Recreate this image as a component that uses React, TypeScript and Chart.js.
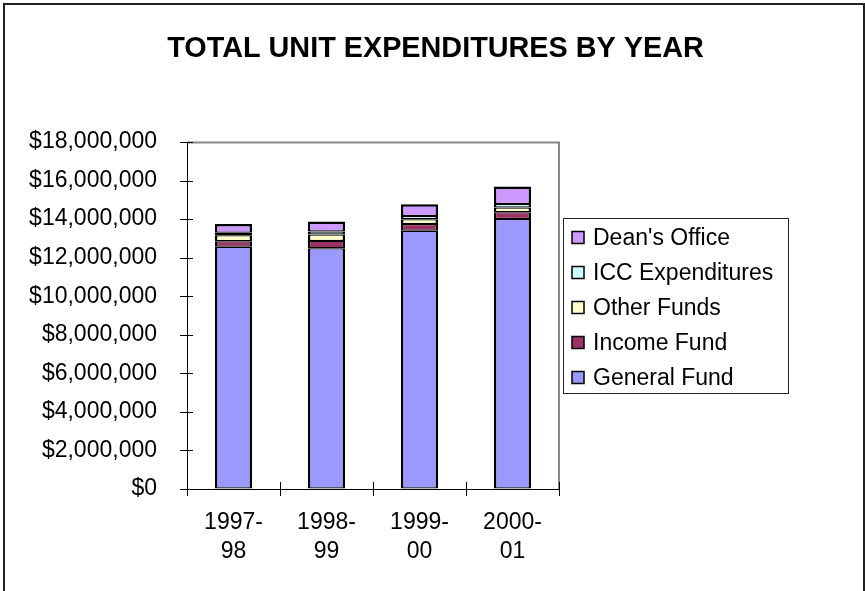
import React, { useEffect, useRef } from "react";
import { Chart, registerables } from "chart.js";

Chart.register(...registerables);

const categories = [["1997-", "98"], ["1998-", "99"], ["1999-", "00"], ["2000-", "01"]];
const generalFund = [12570000, 12490000, 13400000, 14010000];
const incomeFund = [280000, 380000, 350000, 350000];
const otherFunds = [310000, 330000, 240000, 240000];
const iccExpenditures = [130000, 160000, 170000, 190000];
const deansOffice = [450000, 520000, 610000, 900000];
const yMin = 0;
const yMax = 18000000;
const yStep = 2000000;
const chartTitle = "TOTAL UNIT EXPENDITURES BY YEAR";

const FONT = "'Liberation Sans', Arial, sans-serif";

const framePlugin = {
  id: "framePlugin",
  beforeDraw(chart: any) {
    const ctx = chart.ctx;
    ctx.save();
    ctx.fillStyle = "#ffffff";
    ctx.fillRect(0, 0, chart.width, chart.height);
    ctx.strokeStyle = "#222222";
    ctx.lineWidth = 2;
    ctx.strokeRect(4, 4, 860, 700);
    ctx.fillStyle = "#000000";
    ctx.font = `bold 28.8px ${FONT}`;
    ctx.textAlign = "center";
    ctx.textBaseline = "alphabetic";
    ctx.fillText(chartTitle, 435.5, 57);
    ctx.restore();
  },
  afterDatasetsDraw(chart: any) {
    const ctx = chart.ctx;
    const area = chart.chartArea;
    const xs = chart.scales.x;
    const ys = chart.scales.y;
    ctx.save();
    ctx.strokeStyle = "#888888";
    ctx.lineWidth = 2;
    ctx.beginPath();
    ctx.moveTo(area.left, area.top + 0.5);
    ctx.lineTo(area.right, area.top + 0.5);
    ctx.lineTo(area.right, area.bottom);
    ctx.stroke();
    ctx.strokeStyle = "#000000";
    ctx.lineWidth = 1;
    ctx.beginPath();
    ctx.moveTo(Math.round(area.left) + 0.5, area.top);
    ctx.lineTo(Math.round(area.left) + 0.5, area.bottom);
    ctx.moveTo(area.left, Math.round(area.bottom) + 0.5);
    ctx.lineTo(area.right, Math.round(area.bottom) + 0.5);
    for (let v = yMin; v <= yMax; v += yStep) {
      const y = Math.round(ys.getPixelForValue(v)) + 0.5;
      ctx.moveTo(area.left - 7, y);
      ctx.lineTo(area.left + 6, y);
    }
    const n = chart.data.labels.length;
    for (let i = 0; i <= n; i++) {
      const x = Math.round(xs.getPixelForValue(i - 0.5)) + 0.5;
      ctx.moveTo(x, area.bottom - 7);
      ctx.lineTo(x, area.bottom + 7);
    }
    ctx.stroke();
    ctx.restore();
  },
  afterDraw(chart: any) {
    const ctx = chart.ctx;
    const ds = chart.data.datasets.slice().reverse();
    ctx.save();
    ctx.strokeStyle = "#222222";
    ctx.lineWidth = 1;
    ctx.strokeRect(563.5, 218.5, 225, 175);
    ctx.font = `23px ${FONT}`;
    ctx.textAlign = "left";
    ctx.textBaseline = "middle";
    ds.forEach((d: any, i: number) => {
      const cy = 237.5 + i * 35;
      ctx.fillStyle = d.backgroundColor;
      ctx.fillRect(572, cy - 6, 12, 12);
      ctx.strokeStyle = "#000000";
      ctx.lineWidth = 1.5;
      ctx.strokeRect(572, cy - 6, 12, 12);
      ctx.fillStyle = "#000000";
      ctx.fillText(d.label, 593, cy + 1);
    });
    ctx.restore();
  },
};

function mk(label: string, data: number[], color: string, top = 1.2) {
  return {
    label,
    data,
    backgroundColor: color,
    borderColor: "#000000",
    borderWidth: { left: 2.5, right: 2.5, top, bottom: 1.2 },
    borderSkipped: false,
    barPercentage: 0.4,
    categoryPercentage: 1.0,
  };
}

export default function App() {
  const ref = useRef<HTMLCanvasElement>(null);
  useEffect(() => {
    if (!ref.current) return;
    const chart = new Chart(ref.current, {
      type: "bar",
      data: {
        labels: categories,
        datasets: [
          mk("General Fund", generalFund, "#9999FF"),
          mk("Income Fund", incomeFund, "#993366"),
          mk("Other Funds", otherFunds, "#FFFFCC"),
          mk("ICC Expenditures", iccExpenditures, "#CCFFFF"),
          mk("Dean's Office", deansOffice, "#CC99FF", 2.5),
        ] as any,
      },
      options: {
        responsive: false,
        animation: false,
        layout: { padding: { left: 0, top: 142, right: 306, bottom: 0 } },
        plugins: {
          legend: { display: false },
          title: { display: false },
          tooltip: { enabled: false },
        },
        scales: {
          x: {
            stacked: true,
            grid: { drawOnChartArea: false, drawTicks: false, color: "rgba(0,0,0,0)" },
            border: { display: false },
            ticks: {
              color: "#000000",
              font: { family: FONT, size: 23, lineHeight: 1.26 },
              padding: 19,
              maxRotation: 0,
              autoSkip: false,
            },
            afterFit: (s: any) => {
              s.height = 102;
            },
          },
          y: {
            stacked: true,
            min: yMin,
            max: yMax,
            grid: { drawOnChartArea: false, drawTicks: false, color: "rgba(0,0,0,0)" },
            border: { display: false },
            ticks: {
              stepSize: yStep,
              color: "#000000",
              font: { family: FONT, size: 23 },
              padding: 30,
              callback: (v: any) => "$" + Number(v).toLocaleString("en-US"),
            },
            afterFit: (s: any) => {
              s.width = 187;
            },
          },
        },
      } as any,
      plugins: [framePlugin],
    });
    return () => chart.destroy();
  }, []);
  return (
    <div style={{ position: "absolute", left: 0, top: 0, width: 865, height: 591 }}>
      <canvas ref={ref} width={865} height={591} style={{ display: "block" }} />
    </div>
  );
}
